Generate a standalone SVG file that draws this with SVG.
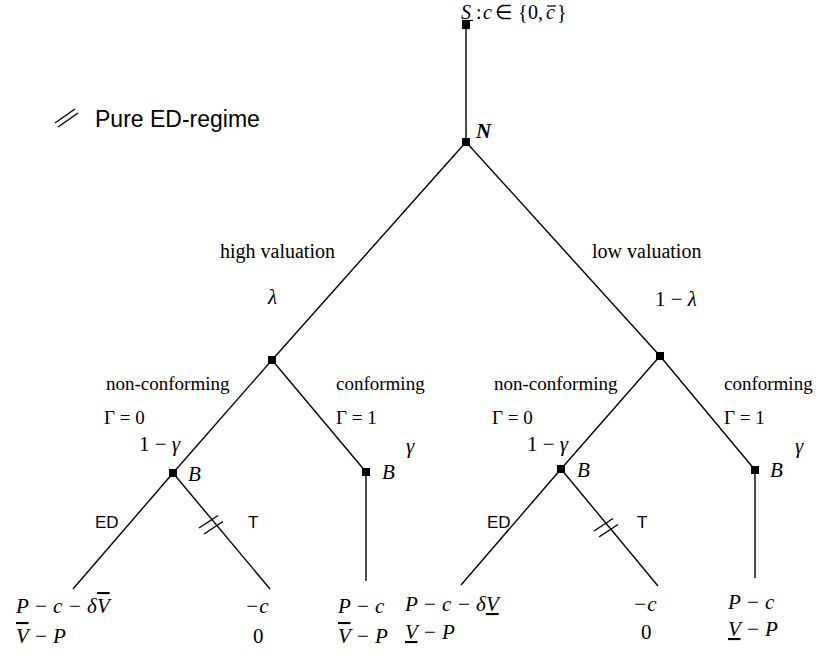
<svg xmlns="http://www.w3.org/2000/svg" width="821" height="659" viewBox="0 0 821 659">
<style>
.e{stroke:#000;stroke-width:1.4;fill:none}
.d{stroke:#000;stroke-width:1.2;fill:none}
.n{fill:#000}
.w{font-family:"Liberation Serif","Times New Roman",serif;font-size:19px;fill:#000}
.m{font-family:"Liberation Serif","Times New Roman",serif;font-size:21px;fill:#000}
.i{font-style:italic}
.s{font-family:"Liberation Sans",Arial,sans-serif;font-size:17px;fill:#000}
.ov{text-decoration:overline}
.un{text-decoration:underline}
</style>
<rect width="821" height="659" fill="#fff"/>
<g id="connectors">
<line class="e" x1="466" y1="25" x2="466" y2="142"/>
<line class="e" x1="466" y1="142" x2="272" y2="360"/>
<line class="e" x1="466" y1="142" x2="660" y2="356"/>
<line class="e" x1="272" y1="360" x2="173" y2="473"/>
<line class="e" x1="272" y1="360" x2="366" y2="472"/>
<line class="e" x1="660" y1="356" x2="561" y2="469"/>
<line class="e" x1="660" y1="356" x2="755" y2="470"/>
<line class="e" x1="173" y1="473" x2="73" y2="589"/>
<line class="e" x1="173" y1="473" x2="270" y2="589"/>
<line class="e" x1="366" y1="472" x2="366" y2="581"/>
<line class="e" x1="561" y1="469" x2="461" y2="585"/>
<line class="e" x1="561" y1="469" x2="658" y2="586"/>
<line class="e" x1="755" y1="470" x2="755" y2="578"/>
<g id="cut-left">
<line class="e" x1="199" y1="528" x2="218" y2="515.5"/>
<line class="e" x1="204" y1="534" x2="223" y2="521.5"/>
</g>
<g id="cut-right">
<line class="e" x1="594" y1="531" x2="613" y2="518.5"/>
<line class="e" x1="599" y1="537" x2="618" y2="524.5"/>
</g>
</g>
<g id="legend">
<line class="e" x1="55" y1="123" x2="75" y2="109"/>
<line class="e" x1="58" y1="127" x2="78" y2="113"/>
<text class="s" x="95" y="127" style="font-size:23px">Pure ED-regime</text>
</g>
<g id="node-S">
<rect class="n" x="462" y="21" width="8" height="8"/>
<text class="m" y="19" style="font-size:20px"><tspan class="i" x="461">S</tspan><tspan x="476">:</tspan><tspan class="i" x="483">c</tspan><tspan x="495">∈</tspan><tspan x="518">{</tspan><tspan x="528">0,</tspan><tspan class="i" x="546">c</tspan><tspan x="557">}</tspan></text>
<line class="d" x1="462" y1="20.5" x2="473" y2="20.5"/>
<line class="d" x1="547" y1="6" x2="556" y2="6"/>
</g>
<g id="node-N">
<rect class="n" x="462" y="138" width="8" height="8"/>
<text class="m i" x="476" y="138" style="font-weight:bold">N</text>
<text class="w" x="220" y="258" style="font-size:20px">high valuation</text>
<text class="m i" x="268" y="304">λ</text>
<text class="w" x="592" y="258" style="font-size:20px">low valuation</text>
<text class="m" x="655" y="306">1 − <tspan class="i">λ</tspan></text>
</g>
<g id="node-high">
<rect class="n" x="268" y="356" width="8" height="8"/>
<text class="w" x="106" y="390">non-conforming</text>
<text class="w" x="104" y="424">Γ = 0</text>
<text class="m" x="139" y="451">1 − <tspan class="i">γ</tspan></text>
<text class="w" x="336" y="390">conforming</text>
<text class="w" x="336" y="424">Γ = 1</text>
<text class="m i" x="406" y="453">γ</text>
</g>
<g id="node-low">
<rect class="n" x="656" y="352" width="8" height="8"/>
<text class="w" x="494" y="390">non-conforming</text>
<text class="w" x="492" y="424">Γ = 0</text>
<text class="m" x="527" y="451">1 − <tspan class="i">γ</tspan></text>
<text class="w" x="724" y="390">conforming</text>
<text class="w" x="724" y="424">Γ = 1</text>
<text class="m i" x="795" y="453">γ</text>
</g>
<g id="node-B1">
<rect class="n" x="169" y="469" width="8" height="8"/>
<text class="m i" x="188" y="481">B</text>
<text class="s" x="95" y="528">ED</text>
<text class="s" x="248" y="528">T</text>
</g>
<g id="node-B2">
<rect class="n" x="362" y="468" width="8" height="8"/>
<text class="m i" x="382" y="479">B</text>
</g>
<g id="node-B3">
<rect class="n" x="557" y="465" width="8" height="8"/>
<text class="m i" x="577" y="477">B</text>
<text class="s" x="487" y="528">ED</text>
<text class="s" x="637" y="528">T</text>
</g>
<g id="node-B4">
<rect class="n" x="751" y="466" width="8" height="8"/>
<text class="m i" x="770" y="477">B</text>
</g>
<g id="payoffs">
<text class="m i" x="16" y="613">P − c − δ<tspan class="ov">V</tspan></text>
<text class="m i" x="16" y="643"><tspan class="ov">V</tspan> − P</text>
<text class="m i" x="245" y="613">−c</text>
<text class="m" x="253" y="643">0</text>
<text class="m i" x="338" y="613">P − c</text>
<text class="m i" x="338" y="643"><tspan class="ov">V</tspan> − P</text>
<text class="m i" x="405" y="611">P − c − δ<tspan class="un">V</tspan></text>
<text class="m i" x="405" y="639"><tspan class="un">V</tspan> − P</text>
<text class="m i" x="633" y="611">−c</text>
<text class="m" x="641" y="639">0</text>
<text class="m i" x="728" y="609">P − c</text>
<text class="m i" x="728" y="636"><tspan class="un">V</tspan> − P</text>
</g>
</svg>
